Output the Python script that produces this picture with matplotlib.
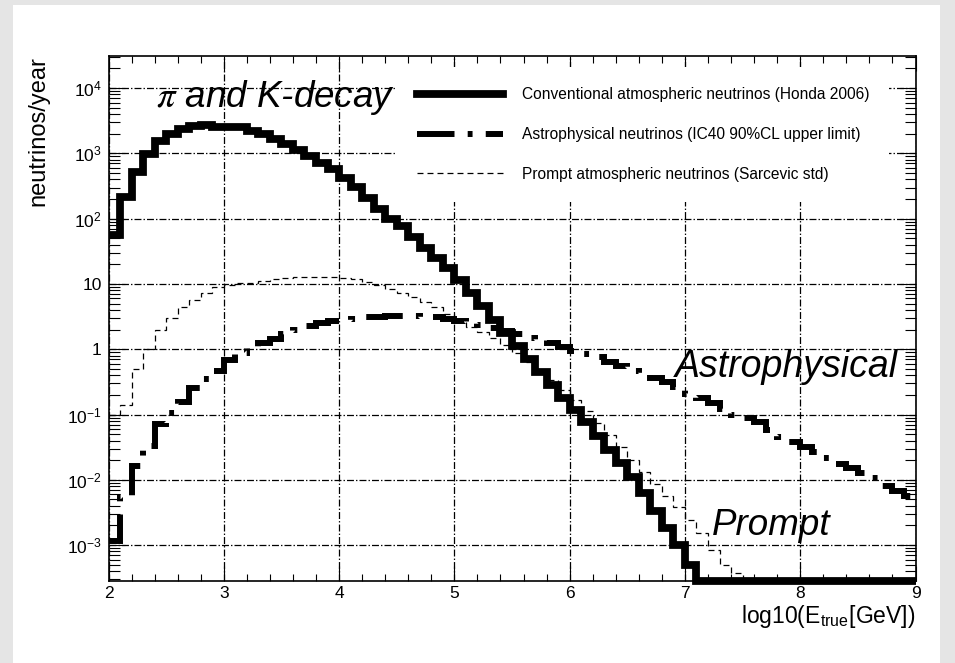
import numpy as np
import matplotlib
matplotlib.use("Agg")
import matplotlib.pyplot as plt
from matplotlib.lines import Line2D
from matplotlib.patches import Rectangle
from matplotlib.ticker import FixedLocator, FixedFormatter, LogLocator, MultipleLocator, NullFormatter

plt.rcParams["font.family"] = ["Liberation Sans", "DejaVu Sans"]
plt.rcParams["mathtext.fontset"] = "stix"
plt.rcParams["lines.scale_dashes"] = False

# Binning in log10(E_true / GeV): 70 bins of width 0.1 from 2 to 9
bin_edges = np.round(np.linspace(2.0, 9.0, 71), 1)

# neutrinos/year per bin
conventional = [
    56, 214, 513, 977, 1550, 2000, 2340, 2630, 2690, 2510,
    2510, 2570, 2240, 1950, 1660, 1410, 1120, 912, 724, 575,
    417, 302, 209, 141, 100, 75.9, 52.5, 35.5, 25.1, 17.4,
    11.5, 7.24, 4.57, 2.82, 1.78, 1.12, 0.708, 0.447, 0.282, 0.178,
    0.117, 0.0759, 0.0468, 0.0288, 0.0178, 0.0112, 0.00631, 0.00331, 0.00182, 0.00100,
    0.000501, 0, 0, 0, 0, 0, 0, 0, 0, 0,
    0, 0, 0, 0, 0, 0, 0, 0, 0, 0,
]
astrophysical = [
    0.00115, 0.00537, 0.0162, 0.0331, 0.0708, 0.105, 0.158, 0.251, 0.347, 0.468,
    0.676, 0.891, 1.07, 1.26, 1.45, 1.74, 2.00, 2.29, 2.51, 2.69,
    2.82, 2.95, 3.09, 3.16, 3.24, 3.24, 3.24, 3.16, 3.09, 2.95,
    2.75, 2.57, 2.34, 2.14, 1.91, 1.70, 1.51, 1.38, 1.26, 1.10,
    0.933, 0.832, 0.759, 0.631, 0.550, 0.468, 0.407, 0.363, 0.316, 0.263,
    0.209, 0.178, 0.151, 0.120, 0.100, 0.0871, 0.0759, 0.0575, 0.0457, 0.0380,
    0.0316, 0.0263, 0.0219, 0.0174, 0.0151, 0.0126, 0.0105, 0.00794, 0.00676, 0.00562,
]
prompt = [
    0.100, 0.141, 0.49, 1.00, 2.00, 3.02, 4.37, 5.75, 7.24, 8.9,
    9.8, 10.2, 10.5, 11.0, 11.7, 12.3, 12.6, 12.6, 12.6, 12.6,
    12.3, 11.7, 10.7, 9.55, 8.5, 7.24, 6.3, 5.37, 4.47, 3.47,
    2.69, 2.19, 1.82, 1.48, 1.17, 0.871, 0.646, 0.468, 0.339, 0.240,
    0.166, 0.112, 0.0741, 0.0490, 0.0316, 0.0200, 0.0132, 0.0087, 0.00562, 0.00380,
    0.00240, 0.00151, 0.00083, 0.00050, 0.00038, 0, 0, 0, 0, 0,
    0, 0, 0, 0, 0, 0, 0, 0, 0, 0,
]

legend_labels = [
    "Conventional atmospheric neutrinos (Honda 2006)",
    "Astrophysical neutrinos (IC40 90%CL upper limit)",
    "Prompt atmospheric neutrinos (Sarcevic std)",
]

x_ticks = [2, 3, 4, 5, 6, 7, 8, 9]
x_tick_labels = ["2", "3", "4", "5", "6", "7", "8", "9"]
y_ticks = [1e-3, 1e-2, 1e-1, 1, 10, 1e2, 1e3, 1e4]
y_tick_labels = [r"$\mathregular{10^{-3}}$", r"$\mathregular{10^{-2}}$",
                 r"$\mathregular{10^{-1}}$", "1", "10",
                 r"$\mathregular{10^{2}}$", r"$\mathregular{10^{3}}$",
                 r"$\mathregular{10^{4}}$"]
x_limits = (2.0, 9.0)
y_limits = (2.85e-4, 3.1e4)

# line styles
conv_style = dict(color="black", lw=5.6, linestyle="-")
astro_style = dict(color="black", lw=4.3, linestyle=(0, (27, 9.5, 3.5, 9.5)))
prompt_style = dict(color="black", lw=0.9, linestyle=(0, (4.3, 2.9)))
grid_style = dict(color="black", lw=0.9, linestyle=(0, (5, 1.5, 1.0, 1.5)))

W, H = 955, 663
fig = plt.figure(figsize=(W / 100, H / 100), dpi=100, facecolor="#e5e5e5")
fig.add_artist(Rectangle((13 / W, 0), (940 - 13) / W, (H - 5) / H,
                         transform=fig.transFigure, facecolor="white",
                         edgecolor="none", zorder=-10))

ax = fig.add_axes([108.5 / W, 1 - 580.7 / H, 807 / W, 524.7 / H])
ax.set_yscale("log")
ax.set_xlim(*x_limits)
ax.set_ylim(*y_limits)

floor = y_limits[0]


def floored(v):
    v = np.asarray(v, dtype=float)
    return np.where(v > 0, v, floor)


ax.stairs(floored(prompt), bin_edges, baseline=None, fill=False, zorder=3,
          clip_on=False, **prompt_style)
ax.stairs(floored(astrophysical), bin_edges, baseline=None, fill=False,
          zorder=3, **astro_style)
ax.stairs(floored(conventional), bin_edges, baseline=None, fill=False,
          zorder=4, clip_on=False, joinstyle="miter", **conv_style)

# grid
ax.set_axisbelow(True)
ax.grid(True, which="major", **grid_style)
ax.grid(False, which="minor")

# ticks
ax.xaxis.set_major_locator(FixedLocator(x_ticks))
ax.xaxis.set_major_formatter(FixedFormatter(x_tick_labels))
ax.xaxis.set_minor_locator(MultipleLocator(0.2))
ax.yaxis.set_major_locator(FixedLocator(y_ticks))
ax.yaxis.set_major_formatter(FixedFormatter(y_tick_labels))
ax.yaxis.set_minor_locator(LogLocator(base=10, subs=np.arange(2, 10), numticks=30))
ax.yaxis.set_minor_formatter(NullFormatter())

ax.tick_params(axis="both", which="both", direction="in", top=True, right=True,
               color="black", width=0.8, labelsize=12.5)
ax.tick_params(axis="x", which="major", length=11, pad=4)
ax.tick_params(axis="x", which="minor", length=5)
ax.tick_params(axis="y", which="major", length=11.5, pad=5)
ax.tick_params(axis="y", which="minor", length=8)
for s in ax.spines.values():
    s.set_linewidth(1.2)

# axis titles
ax.set_xlabel(r"log10(E$_{\mathregular{true}}$[GeV])", fontsize=16.5, loc="right",
              labelpad=1)
ax.set_ylabel("neutrinos/year", fontsize=17, loc="top")
ax.yaxis.set_label_coords(-0.073, 1.0)

# legend
leg_fs = 11.2
handles = [Line2D([], [], **conv_style),
           Line2D([], [], **astro_style),
           Line2D([], [], **prompt_style)]
leg = ax.legend(handles, legend_labels, loc="upper left",
                bbox_to_anchor=((397 - 108.5) / 807, (580.7 - 67) / 524.7),
                borderaxespad=0, fontsize=leg_fs, frameon=True, fancybox=False,
                framealpha=1, facecolor="white", edgecolor="none",
                borderpad=1.29, labelspacing=1.6, handlelength=5.5,
                handletextpad=1.22)
leg.set_zorder(5)

# annotations
ax.text(2.41, 5200, r"$\pi$ and K-decay", fontsize=26.5, style="italic",
        va="baseline", ha="left", zorder=6)
ax.text(6.91, 0.38, "Astrophysical", fontsize=27, style="italic",
        va="baseline", ha="left", zorder=6)
ax.text(7.23, 1.45e-3, "Prompt", fontsize=26.5, style="italic",
        va="baseline", ha="left", zorder=6)

fig.savefig("out.png", dpi=100, facecolor=fig.get_facecolor())
